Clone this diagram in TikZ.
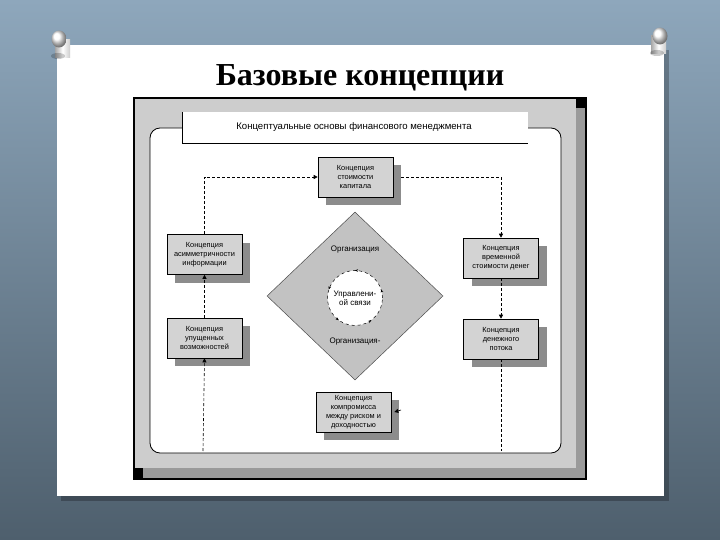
\documentclass[tikz,border=0pt]{standalone}
\usepackage{fontspec}
\setmainfont{Liberation Serif}
\newfontfamily\boxfont{Liberation Sans}
\usetikzlibrary{arrows.meta,shapes.geometric,shadows,decorations.markings}
\definecolor{bgtop}{HTML}{8EA7BC}
\definecolor{bgbot}{HTML}{4E5F6D}
\definecolor{panelgrey}{HTML}{CDCDCD}
\definecolor{stripgrey}{HTML}{9A9A9A}
\definecolor{boxgrey}{HTML}{D3D3D3}
\definecolor{shadowgrey}{HTML}{8C8C8C}
\definecolor{diagrey}{HTML}{C2C2C2}
\begin{document}
\begin{tikzpicture}[x=1pt,y=-1pt,
  conceptbox/.style={draw=black, line width=0.6pt, fill=boxgrey, minimum width=75pt, minimum height=40pt,
    inner sep=1pt, align=center, font=\boxfont\fontsize{7.4}{9}\selectfont,
    drop shadow={shadow xshift=8pt, shadow yshift=-8pt, fill=shadowgrey, opacity=1}},
  smalltext/.style={font=\boxfont\fontsize{8}{9}\selectfont, align=center, inner sep=0pt},
  conn/.style={dashed, dash pattern=on 3pt off 2pt, line width=0.6pt},
  tip/.style={-{Triangle[length=4pt,width=4pt]}}
]
\useasboundingbox (0,0) rectangle (720,540);
% background
\shade[top color=bgtop, bottom color=bgbot] (0,0) rectangle (720,540);
% paper shadow and paper
\fill[black, opacity=0.25] (61,50) rectangle (669,501);
\fill[white] (57,45) rectangle (664,496);
% pins
\shade[left color=gray!70, right color=gray!40, middle color=white] (55,40) rectangle (70,58);
\fill[black,opacity=0.2] (58,56) ellipse (7pt and 3pt);
\shade[ball color=white] (59,39) ellipse (7.5pt and 8.5pt);
\shade[left color=gray!70, right color=gray!40, middle color=white] (651,36) rectangle (666,54);
\fill[black,opacity=0.2] (657,53) ellipse (7pt and 3pt);
\shade[ball color=white] (660,36) ellipse (7.5pt and 8.5pt);
% title
\node[font=\bfseries\fontsize{32}{34}\selectfont, inner sep=0pt, anchor=base] (title) at (360,86) {Базовые концепции};
% frame
\fill[black] (133,97) rectangle (587,480);
\fill[panelgrey] (135,99) rectangle (585,478);
\fill[stripgrey] (576,108) rectangle (585,478);
\fill[stripgrey] (143,468) rectangle (585,478);
\fill[black] (576,99) rectangle (585,108);
\fill[black] (135,468) rectangle (143,478);
% inner white area
\draw[fill=white, line width=0.8pt, rounded corners=10pt] (150,128) rectangle (561,453);
% header
\fill[white] (182,112) rectangle (528,143);
\draw[line width=0.8pt] (182,112) -- (182,143) -- (528,143);
\node[smalltext, font=\boxfont\fontsize{9.6}{11}\selectfont] (header) at (354,127.5) {Концептуальные основы финансового менеджмента};
% diamond
\node[diamond, draw=black!70, line width=0.5pt, fill=diagrey, minimum width=176pt, minimum height=168pt, inner sep=0pt] (dm) at (355,296) {};
\node[smalltext] (org1) at (355,250) {Организация};
\node[smalltext] (org2) at (355,342) {Организация-};
\node[circle, draw=black, fill=white, dashed, line width=0.5pt, minimum size=55pt, inner sep=0pt,
  postaction={decorate}, decoration={markings, mark=between positions 0.05 and 1 step 0.2 with {\arrow{Stealth[length=3pt,width=2.5pt]}}},
  smalltext] (ci) at (355,298) {Управлени-\\ой связи};
% concept boxes
\node[conceptbox] (ct) at (355.5,177) {Концепция\\стоимости\\капитала};
\node[conceptbox] (cl1) at (204.5,254.5) {Концепция\\асимметричности\\информации};
\node[conceptbox] (cr1) at (501,258) {Концепция\\временной\\стоимости денег};
\node[conceptbox] (cl2) at (204.5,338) {Концепция\\упущенных\\возможностей};
\node[conceptbox] (cr2) at (501,339) {Концепция\\денежного\\потока};
\node[conceptbox] (cb) at (353.5,412) {Концепция\\компромисса\\между риском и\\доходностью};
% connectors
\coordinate (lb) at (203,451);
\coordinate (rb) at (501,451);
\coordinate (cbr) at (401,410);
\draw[conn, tip] (cl1.north) |- (ct.west);
\draw[conn, tip] ([xshift=8pt]ct.east) -| (cr1.north);
\draw[conn, tip] (cl2.north) -- (cl1.south);
\draw[conn, tip] (lb) -- (cl2.south);
\draw[conn, tip] (cr1.south) -- (cr2.north);
\draw[conn] (cr2.south) -- (rb);
\draw[tip, line width=0.6pt] (cbr) -- ([xshift=3pt]cb.east);
\end{tikzpicture}
\end{document}
